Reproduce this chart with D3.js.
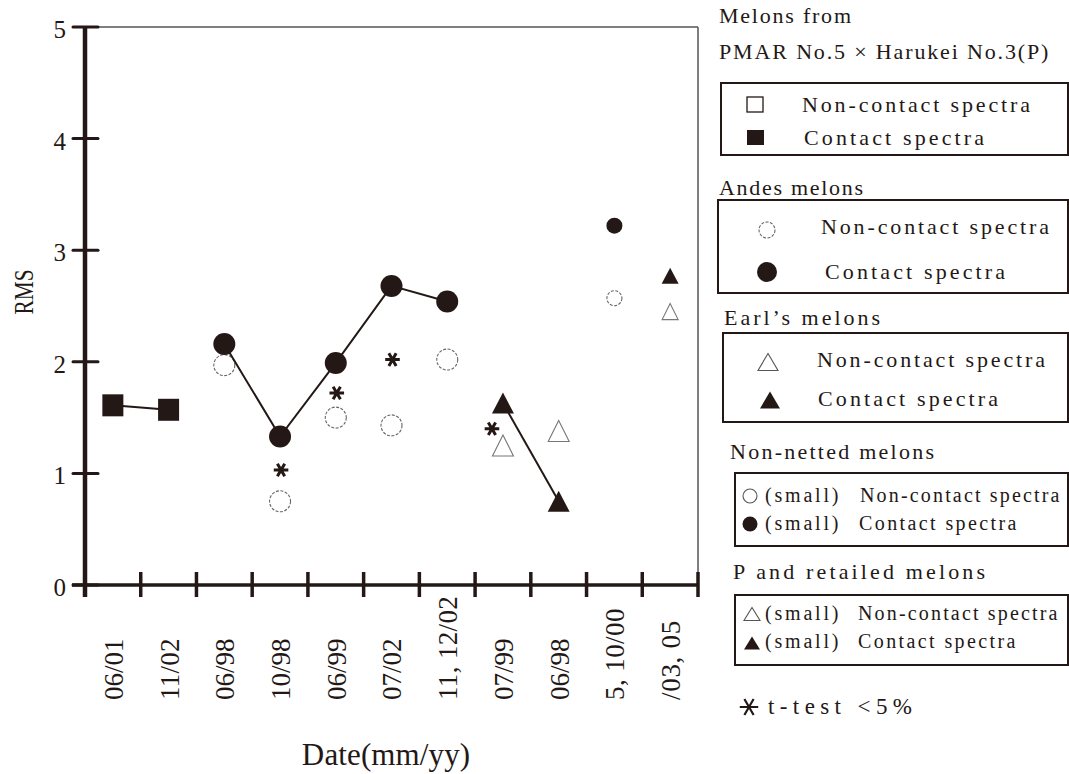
<!DOCTYPE html>
<html>
<head>
<meta charset="utf-8">
<script src="https://cdn.jsdelivr.net/npm/d3@7/dist/d3.min.js"></script>
<style>
  body { margin: 0; background: #fff; }
  svg { display: block; }
</style>
</head>
<body>
<svg></svg>
<script>
// categories on the x axis (mm/yy)
const dates = ["06/01", "11/02", "06/98", "10/98", "06/99", "07/02", "11, 12/02", "07/99", "06/98", "5, 10/00", "/03, 05"];
const yTicks = [0, 1, 2, 3, 4, 5];

// PMAR No.5 x Harukei No.3 (P)
const pIdx = [0, 1];
const pContact = [1.61, 1.57];

// Andes melons
const andesIdx = [2, 3, 4, 5, 6];
const andesContact = [2.16, 1.33, 1.99, 2.68, 2.54];
const andesNonContact = [1.97, 0.75, 1.50, 1.43, 2.02];

// Earl's melons
const earlIdx = [7, 8];
const earlContact = [1.63, 0.75];
const earlNonContact = [1.25, 1.38];

// Non-netted melons (small circles)
const nonNettedIdx = [9];
const nonNettedContact = [3.22];
const nonNettedNonContact = [2.57];

// P and retailed melons (small triangles)
const retailIdx = [10];
const retailContact = [2.77];
const retailNonContact = [2.45];

// t-test < 5%
const tTestIdx = [3, 4, 5, 7];
const tTestY = [1.03, 1.72, 2.02, 1.40];

const ink = "#231815";
const W = 1069, H = 774;
const svg = d3.select("svg").attr("width", W).attr("height", H);

const x = d3.scaleBand().domain(d3.range(dates.length)).range([85, 698]).padding(0);
const y = d3.scaleLinear().domain([0, 5]).range([585, 27]);
const cx = i => x(i) + x.bandwidth() / 2;

const serif = "'Liberation Serif', 'DejaVu Serif', serif";

// text helper: serif glyphs spread to a fixed advance per character (typewriter look)
function label(g, px, py, str, size, adv, opts = {}) {
  const narrow = opts.narrow ? ", " : "";
  const len = Array.from(str).reduce((s, c) => s + (narrow.includes(c) ? adv * 0.72 : adv), 0);
  const t = g.append("text")
    .attr("transform", `translate(${px},${py}) rotate(${opts.rot || 0})`)
    .attr("font-family", serif)
    .attr("font-size", size)
    .attr("fill", ink)
    .attr("text-anchor", opts.anchor || "start")
    .attr("textLength", len)
    .attr("lengthAdjust", opts.squeeze ? "spacingAndGlyphs" : "spacing")
    .text(str);
  if (opts.dy) t.attr("dy", opts.dy);
  return t;
}

// triangle centred on its bounding box
const tri = (w, h) => `M0,${-h / 2}L${w / 2},${h / 2}L${-w / 2},${h / 2}Z`;
const star = d3.symbol(d3.symbolAsterisk, 150);

// ---- frame ----
const frame = svg.append("g");
frame.append("line").attr("x1", 85).attr("x2", 698).attr("y1", y(5)).attr("y2", y(5))
  .attr("stroke", "#555").attr("stroke-width", 1.5);
frame.append("line").attr("x1", 698).attr("x2", 698).attr("y1", y(5)).attr("y2", y(0))
  .attr("stroke", "#555").attr("stroke-width", 1.5);

// y axis
const yAxis = svg.append("g");
yAxis.append("line").attr("x1", 85).attr("x2", 85).attr("y1", y(5) - 1).attr("y2", 597)
  .attr("stroke", ink).attr("stroke-width", 4.5);
yAxis.selectAll(".yt").data(yTicks).enter().append("line")
  .attr("x1", 73).attr("x2", 98)
  .attr("y1", d => y(d)).attr("y2", d => y(d))
  .attr("stroke", ink).attr("stroke-width", 3).attr("stroke-linecap", "round");
yAxis.selectAll(".yl").data(yTicks).enter().append("text")
  .attr("x", 66).attr("y", d => y(d) + 11)
  .attr("text-anchor", "end")
  .attr("font-family", serif).attr("font-size", 25).attr("fill", ink)
  .text(d => d);
label(svg, 33, 292, "RMS", 28, 15, { rot: -90, anchor: "middle", squeeze: true });

// x axis
const xAxis = svg.append("g");
xAxis.append("line").attr("x1", 72).attr("x2", 699).attr("y1", y(0)).attr("y2", y(0))
  .attr("stroke", ink).attr("stroke-width", 3.5);
const bounds = d3.range(1, dates.length + 1).map(i => i < dates.length ? x(i) : x(i - 1) + x.bandwidth());
xAxis.selectAll(".xt").data(bounds).enter().append("line")
  .attr("x1", d => d).attr("x2", d => d)
  .attr("y1", 572).attr("y2", 597)
  .attr("stroke", ink).attr("stroke-width", 3.5);
dates.forEach((d, i) => {
  label(xAxis, cx(i) + 1, 700, d, 27, 12.3, { rot: -90, dy: "0.33em", narrow: true });
});
label(svg, 386, 765, "Date(mm/yy)", 31, 15.3, { anchor: "middle" });

// ---- data ----
const plot = svg.append("g");
const pts = (idx, vals) => idx.map((k, j) => ({ i: k, v: vals[j] }));
const line = d3.line().x(d => cx(d.i)).y(d => y(d.v));

// Andes non-contact: dashed open circles (drawn first, under filled ones)
plot.selectAll(".anc").data(pts(andesIdx, andesNonContact)).enter().append("circle")
  .attr("cx", d => cx(d.i)).attr("cy", d => y(d.v)).attr("r", 10.5)
  .attr("fill", "#fff").attr("stroke", "#666").attr("stroke-width", 1.1)
  .attr("stroke-dasharray", "3,1.5");

// Earl's non-contact: open triangles
plot.selectAll(".enc").data(pts(earlIdx, earlNonContact)).enter().append("path")
  .attr("transform", d => `translate(${cx(d.i)},${y(d.v)})`)
  .attr("d", tri(21, 21))
  .attr("fill", "none").attr("stroke", "#777").attr("stroke-width", 1.1);

// non-netted non-contact: small open circle
plot.selectAll(".nnc").data(pts(nonNettedIdx, nonNettedNonContact)).enter().append("circle")
  .attr("cx", d => cx(d.i)).attr("cy", d => y(d.v)).attr("r", 7.5)
  .attr("fill", "none").attr("stroke", "#666").attr("stroke-width", 1.1)
  .attr("stroke-dasharray", "3,1.5");

// P & retailed non-contact: small open triangle
plot.selectAll(".rnc").data(pts(retailIdx, retailNonContact)).enter().append("path")
  .attr("transform", d => `translate(${cx(d.i)},${y(d.v)})`)
  .attr("d", tri(16, 16))
  .attr("fill", "none").attr("stroke", "#777").attr("stroke-width", 1.1);

// connecting lines
[pts(pIdx, pContact), pts(andesIdx, andesContact), pts(earlIdx, earlContact)].forEach(s => {
  plot.append("path").attr("d", line(s))
    .attr("fill", "none").attr("stroke", ink).attr("stroke-width", 2);
});

// P contact: filled squares
plot.selectAll(".pc").data(pts(pIdx, pContact)).enter().append("rect")
  .attr("x", d => cx(d.i) - 10.5).attr("y", d => y(d.v) - 11)
  .attr("width", 21).attr("height", 22).attr("fill", ink);

// Andes contact: big filled circles
plot.selectAll(".ac").data(pts(andesIdx, andesContact)).enter().append("circle")
  .attr("cx", d => cx(d.i)).attr("cy", d => y(d.v)).attr("r", 11).attr("fill", ink);

// Earl's contact: filled triangles
plot.selectAll(".ec").data(pts(earlIdx, earlContact)).enter().append("path")
  .attr("transform", d => `translate(${cx(d.i)},${y(d.v)})`)
  .attr("d", tri(22, 21)).attr("fill", ink);

// non-netted contact: small filled circle
plot.selectAll(".nc").data(pts(nonNettedIdx, nonNettedContact)).enter().append("circle")
  .attr("cx", d => cx(d.i)).attr("cy", d => y(d.v)).attr("r", 8).attr("fill", ink);

// P & retailed contact: small filled triangle
plot.selectAll(".rc").data(pts(retailIdx, retailContact)).enter().append("path")
  .attr("transform", d => `translate(${cx(d.i)},${y(d.v)})`)
  .attr("d", tri(17, 16)).attr("fill", ink);

// asterisks (nudged left where a triangle sits in the same column)
const nudge = i => earlIdx.includes(i) ? -11 : 1;
plot.selectAll(".ast").data(pts(tTestIdx, tTestY)).enter().append("path")
  .attr("transform", d => `translate(${cx(d.i) + nudge(d.i)},${y(d.v)}) rotate(90)`)
  .attr("d", star).attr("fill", "none").attr("stroke", ink).attr("stroke-width", 3);

// ---- legend ----
const lg = svg.append("g");
const box = (x0, y0, x1, y1) => lg.append("rect")
  .attr("x", x0).attr("y", y0).attr("width", x1 - x0).attr("height", y1 - y0)
  .attr("fill", "none").attr("stroke", ink).attr("stroke-width", 2);

label(lg, 719, 23, "Melons from", 22, 12);
label(lg, 719, 59, "PMAR No.5 × Harukei No.3(P)", 22, 12.2);
box(721, 83, 1068, 155);
lg.append("rect").attr("x", 747).attr("y", 97).attr("width", 16).attr("height", 15)
  .attr("fill", "none").attr("stroke", ink).attr("stroke-width", 1.3);
label(lg, 802, 112, "Non-contact spectra", 22, 12);
lg.append("rect").attr("x", 747).attr("y", 130).attr("width", 17).attr("height", 15).attr("fill", ink);
label(lg, 804, 145, "Contact spectra", 22, 12);

label(lg, 719, 195, "Andes melons", 22, 12);
box(718, 200, 1068, 293);
lg.append("circle").attr("cx", 767).attr("cy", 230).attr("r", 8)
  .attr("fill", "none").attr("stroke", "#666").attr("stroke-width", 1.1).attr("stroke-dasharray", "3,1.5");
label(lg, 821, 234, "Non-contact spectra", 22, 12);
lg.append("circle").attr("cx", 767).attr("cy", 272).attr("r", 10).attr("fill", ink);
label(lg, 825, 279, "Contact spectra", 22, 12);

label(lg, 724, 325, "Earl’s melons", 22, 12);
box(723, 333, 1068, 422);
lg.append("path").attr("transform", "translate(768,362)").attr("d", tri(20, 17))
  .attr("fill", "none").attr("stroke", "#555").attr("stroke-width", 1.1);
label(lg, 817, 367, "Non-contact spectra", 22, 12);
lg.append("path").attr("transform", "translate(770,400)").attr("d", tri(20, 17)).attr("fill", ink);
label(lg, 818, 406, "Contact spectra", 22, 12);

label(lg, 730, 459, "Non-netted melons", 22, 12);
box(735, 473, 1068, 546);
lg.append("circle").attr("cx", 750).attr("cy", 496).attr("r", 7)
  .attr("fill", "none").attr("stroke", "#555").attr("stroke-width", 1.1);
label(lg, 765, 502, "(small)", 20, 10.5);
label(lg, 860, 502, "Non-contact spectra", 20, 10.5);
lg.append("circle").attr("cx", 750).attr("cy", 524).attr("r", 7.5).attr("fill", ink);
label(lg, 765, 530, "(small)", 20, 10.5);
label(lg, 859, 530, "Contact spectra", 20, 10.5);

label(lg, 733, 579, "P and retailed melons", 22, 12);
box(735, 595, 1068, 665);
lg.append("path").attr("transform", "translate(752,614)").attr("d", tri(16, 13))
  .attr("fill", "none").attr("stroke", "#555").attr("stroke-width", 1.1);
label(lg, 765, 620, "(small)", 20, 10.5);
label(lg, 858, 620, "Non-contact spectra", 20, 10.5);
lg.append("path").attr("transform", "translate(752,643)").attr("d", tri(16, 13)).attr("fill", ink);
label(lg, 765, 648, "(small)", 20, 10.5);
label(lg, 858, 648, "Contact spectra", 20, 10.5);

lg.append("path").attr("transform", "translate(749,707) rotate(90)")
  .attr("d", d3.symbol(d3.symbolAsterisk, 240))
  .attr("fill", "none").attr("stroke", ink).attr("stroke-width", 2.2);
label(lg, 768, 714, "t-test <5%", 23, 14.4);
</script>
</body>
</html>
